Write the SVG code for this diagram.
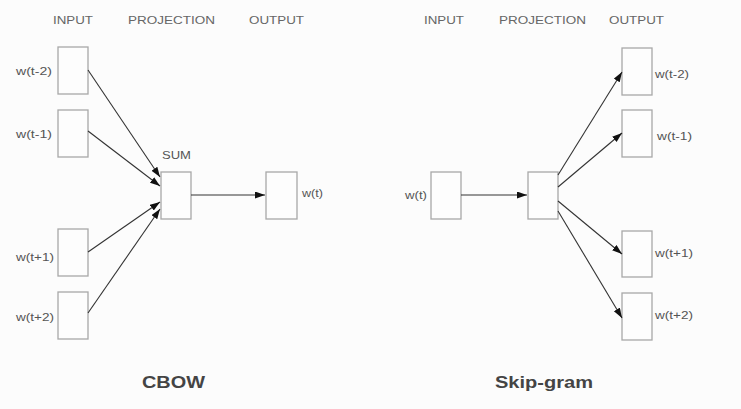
<svg xmlns="http://www.w3.org/2000/svg" width="741" height="409" viewBox="0 0 741 409">
<style>
.bg{fill:#fcfcfc}
.box{fill:#fdfdfd;stroke:#a8a8a8;stroke-width:1.3}
.hdr{font-family:"Liberation Sans",Arial,sans-serif;font-size:11.5px;fill:#666}
.lbl{font-family:"Liberation Sans",Arial,sans-serif;font-size:11px;fill:#555}
.ttl{font-family:"Liberation Sans",Arial,sans-serif;font-size:17px;font-weight:bold;fill:#444}
.edge{stroke:#333;stroke-width:1.1;fill:none;marker-end:url(#ah)}
</style>
<defs>
<marker id="ah" markerUnits="userSpaceOnUse" markerWidth="11" markerHeight="8" refX="10" refY="3.5" orient="auto">
<path d="M0,0 L10,3.5 L0,7 z" fill="#111"/>
</marker>
</defs>
<rect class="bg" x="0" y="0" width="741" height="409"/>

<g id="headers">
<text class="hdr" x="53" y="24" textLength="40" lengthAdjust="spacingAndGlyphs">INPUT</text>
<text class="hdr" x="128" y="24" textLength="87" lengthAdjust="spacingAndGlyphs">PROJECTION</text>
<text class="hdr" x="249" y="24" textLength="55" lengthAdjust="spacingAndGlyphs">OUTPUT</text>
<text class="hdr" x="424" y="24" textLength="40" lengthAdjust="spacingAndGlyphs">INPUT</text>
<text class="hdr" x="499" y="24" textLength="87" lengthAdjust="spacingAndGlyphs">PROJECTION</text>
<text class="hdr" x="609" y="24" textLength="55" lengthAdjust="spacingAndGlyphs">OUTPUT</text>
</g>

<g id="cbow-in-tm2"><rect class="box" x="58" y="47" width="30" height="47"/><text class="lbl" x="16" y="75" textLength="36" lengthAdjust="spacingAndGlyphs">w(t-2)</text></g>
<g id="cbow-in-tm1"><rect class="box" x="58" y="110" width="30" height="47"/><text class="lbl" x="16" y="138" textLength="36" lengthAdjust="spacingAndGlyphs">w(t-1)</text></g>
<g id="cbow-in-tp1"><rect class="box" x="58" y="229" width="30" height="47"/><text class="lbl" x="16" y="261" textLength="38" lengthAdjust="spacingAndGlyphs">w(t+1)</text></g>
<g id="cbow-in-tp2"><rect class="box" x="58" y="292" width="30" height="47"/><text class="lbl" x="16" y="321" textLength="38" lengthAdjust="spacingAndGlyphs">w(t+2)</text></g>
<g id="cbow-sum"><rect class="box" x="161" y="172" width="30" height="47"/><text class="lbl" x="162" y="159" textLength="29" lengthAdjust="spacingAndGlyphs">SUM</text></g>
<g id="cbow-out"><rect class="box" x="266" y="172" width="31" height="47"/><text class="lbl" x="302" y="197" textLength="21" lengthAdjust="spacingAndGlyphs">w(t)</text></g>

<g id="sg-in"><rect class="box" x="431" y="172" width="30" height="47"/><text class="lbl" x="405" y="199" textLength="22" lengthAdjust="spacingAndGlyphs">w(t)</text></g>
<g id="sg-proj"><rect class="box" x="528" y="172" width="30" height="47"/></g>
<g id="sg-out-tm2"><rect class="box" x="622" y="48" width="30" height="47"/><text class="lbl" x="655" y="78" textLength="34" lengthAdjust="spacingAndGlyphs">w(t-2)</text></g>
<g id="sg-out-tm1"><rect class="box" x="622" y="110" width="30" height="47"/><text class="lbl" x="657" y="140" textLength="35" lengthAdjust="spacingAndGlyphs">w(t-1)</text></g>
<g id="sg-out-tp1"><rect class="box" x="622" y="231" width="30" height="46"/><text class="lbl" x="655" y="257" textLength="38" lengthAdjust="spacingAndGlyphs">w(t+1)</text></g>
<g id="sg-out-tp2"><rect class="box" x="622" y="293" width="30" height="47"/><text class="lbl" x="655" y="319" textLength="38" lengthAdjust="spacingAndGlyphs">w(t+2)</text></g>

<g id="connectors">
<line class="edge" x1="88" y1="70" x2="160" y2="177"/>
<line class="edge" x1="88" y1="131" x2="160" y2="186"/>
<line class="edge" x1="88" y1="252" x2="160" y2="202"/>
<line class="edge" x1="88" y1="313" x2="160" y2="209"/>
<line class="edge" x1="191" y1="195" x2="265" y2="195"/>
<line class="edge" x1="461" y1="195" x2="527" y2="195"/>
<line class="edge" x1="558" y1="175" x2="622" y2="72"/>
<line class="edge" x1="558" y1="187" x2="622" y2="133"/>
<line class="edge" x1="558" y1="201" x2="622" y2="254"/>
<line class="edge" x1="558" y1="211" x2="622" y2="318"/>
</g>

<g id="titles">
<text class="ttl" x="142" y="388" textLength="63" lengthAdjust="spacingAndGlyphs">CBOW</text>
<text class="ttl" x="495" y="388" textLength="98" lengthAdjust="spacingAndGlyphs">Skip-gram</text>
</g>
</svg>
